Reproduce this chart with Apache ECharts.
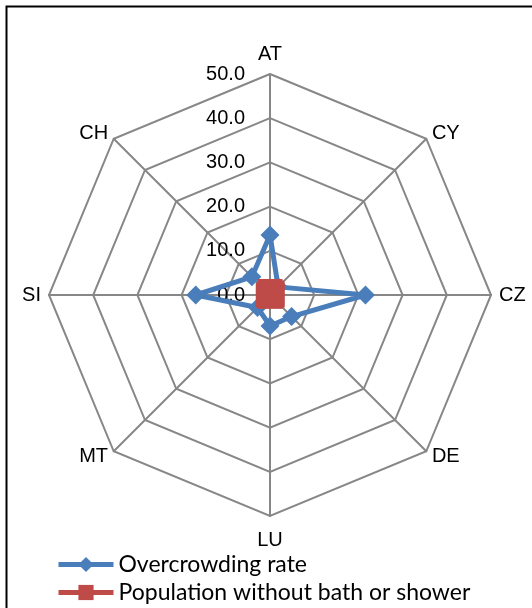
<!DOCTYPE html>
<html>
<head>
<meta charset="utf-8">
<script src="https://cdn.jsdelivr.net/npm/echarts@6/dist/echarts.min.js"></script>
<style>
html,body{margin:0;padding:0;background:#fff;}
#chart{width:532px;height:608px;}
</style>
</head>
<body>
<div id="chart"></div>
<script>
// Countries clockwise from top, as in the picture
const countries = ['AT', 'CY', 'CZ', 'DE', 'LU', 'MT', 'SI', 'CH'];
const overcrowding = [13.6, 2.6, 21.6, 6.9, 7.0, 4.0, 16.8, 5.8];
const noBath = [0.8, 0.6, 0.5, 0.2, 0.3, 0.2, 0.4, 0.2];
const seriesNames = ['Overcrowding rate', 'Population without bath or shower'];
const axisMax = 50;

// label padding tweaks per country (top, right, bottom, left)
const namePad = { AT: [0, 0, 2, 0], DE: [10, 0, 0, 0], LU: [6, 0, 0, 0], MT: [10, 0, 0, 0] };

// ECharts radar runs counter-clockwise: reorder so the chart reads clockwise
const order = [0].concat(countries.map((c, i) => i).slice(1).reverse());
const indicator = order.map((i, k) => {
  const ind = { name: countries[i], max: axisMax, min: 0 };
  if (k === 0) {
    ind.axisLabel = { show: true };
  }
  if (namePad[countries[i]]) {
    ind.nameTextStyle = { padding: namePad[countries[i]] };
  }
  return ind;
});
const ov = order.map(i => overcrowding[i]);
const nb = order.map(i => noBath[i]);

const blue = '#4A7EBB';
const red = '#BE4B48';

const legendBase = {
  orient: 'vertical',
  left: 56,
  padding: 0,
  itemWidth: 55,
  itemHeight: 19,
  lineStyle: { width: 5 },
  textStyle: { fontFamily: 'Lato', fontSize: 23, color: '#000' }
};

const chart = echarts.init(document.getElementById('chart'), null, { renderer: 'canvas' });
chart.setOption({
  animation: false,
  grid: { show: false, left: 0, top: 0, width: 1, height: 1 },
  xAxis: { show: false, type: 'category', data: [] },
  yAxis: { show: false, type: 'value' },
  legend: [
    Object.assign({}, legendBase, { top: 553, data: [seriesNames[0]] }),
    Object.assign({}, legendBase, { top: 581, data: [seriesNames[1]] })
  ],
  radar: {
    center: [270, 295],
    radius: 221,
    startAngle: 90,
    splitNumber: 5,
    shape: 'polygon',
    indicator: indicator,
    nameGap: 8,
    axisName: { color: '#000', fontSize: 20, fontFamily: 'Liberation Sans' },
    axisLine: { lineStyle: { color: '#878787', width: 2 } },
    splitLine: { lineStyle: { color: '#878787', width: 2 } },
    splitArea: { show: false },
    axisTick: { show: false },
    axisLabel: {
      show: false,
      color: '#000',
      fontSize: 20,
      fontFamily: 'Liberation Sans',
      margin: 25,
      formatter: v => v.toFixed(1)
    }
  },
  graphic: [{
    type: 'rect',
    left: 4, top: 4,
    shape: { width: 600, height: 700 },
    style: { fill: 'none', stroke: '#000', lineWidth: 2 },
    silent: true
  }],
  series: [
    { type: 'line', name: seriesNames[0], data: [], symbol: 'diamond', color: blue, lineStyle: { width: 5 } },
    { type: 'line', name: seriesNames[1], data: [], symbol: 'rect', color: red, lineStyle: { width: 5 } },
    {
      type: 'radar',
      name: seriesNames[0],
      symbol: 'diamond',
      symbolSize: 19,
      itemStyle: { color: blue },
      lineStyle: { color: blue, width: 5 },
      data: [{ value: ov, name: seriesNames[0] }]
    },
    {
      type: 'radar',
      name: seriesNames[1],
      symbol: 'rect',
      symbolSize: 25,
      itemStyle: { color: red },
      lineStyle: { color: red, width: 5 },
      data: [{ value: nb, name: seriesNames[1] }]
    }
  ]
});
</script>
</body>
</html>
